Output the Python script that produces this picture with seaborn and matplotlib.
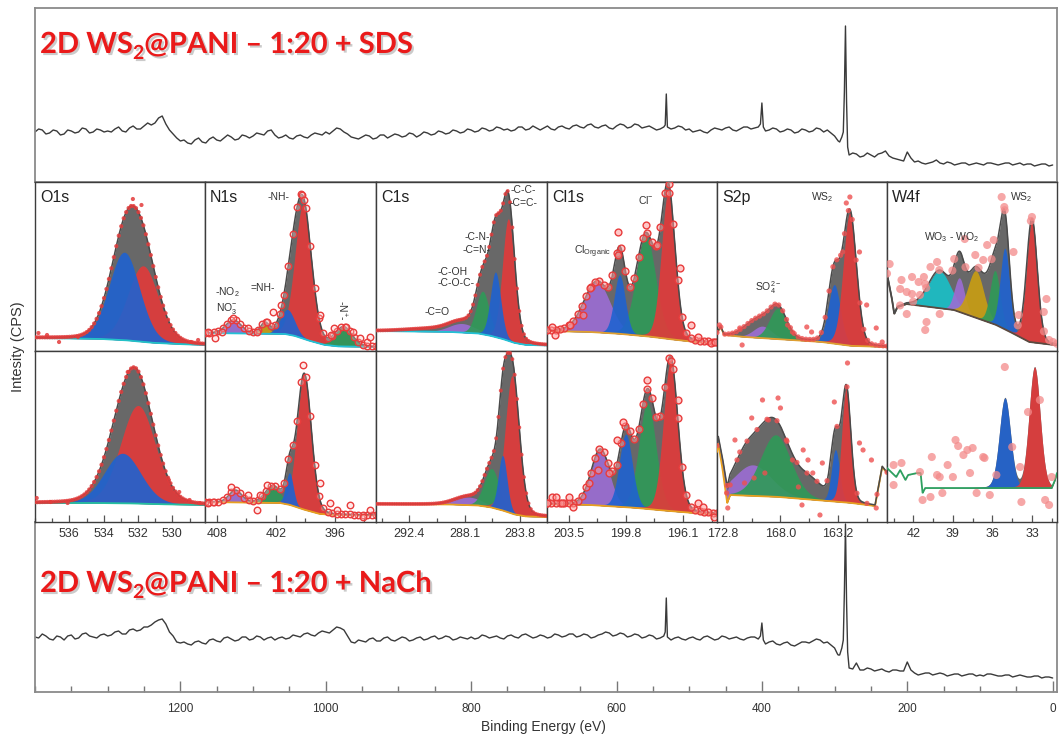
import numpy as np
import pandas as pd
import matplotlib
matplotlib.use("Agg")
import matplotlib.pyplot as plt
import matplotlib.patheffects as pe
from matplotlib.ticker import FixedLocator, FixedFormatter, MultipleLocator
import seaborn as sns

sns.set_style("white")
plt.rcParams["font.family"] = ["Liberation Sans", "DejaVu Sans"]
plt.rcParams["mathtext.fontset"] = "custom"
plt.rcParams["mathtext.rm"] = "Liberation Sans"
plt.rcParams["mathtext.it"] = "Liberation Sans:italic"
plt.rcParams["mathtext.bf"] = "Liberation Sans:bold"

# ------------------------------------------------------------------
# Survey spectra (binding energy in eV, counts in arbitrary units)
# sampled every 10 eV, plus the half-step readings and sharp peaks
# ------------------------------------------------------------------
SURVEY_STEP_E = np.arange(1400, -1, -10)
SURVEY_HALF_E = np.arange(1395, 0, -10)

SDS_SURVEY_I = [
    50, 52, 49, 51, 48, 51, 50, 53, 50, 52,
    51, 53, 51, 54, 53, 56, 57, 64, 58, 48,
    41, 39, 42, 40, 43, 42, 44, 45, 43, 46,
    46, 48, 51, 47, 45, 44, 46, 45, 47, 48,
    50, 51, 53, 48, 44, 45, 46, 44, 47, 46,
    47, 46, 48, 47, 49, 48, 50, 49, 51, 50,
    52, 51, 53, 52, 54, 53, 52, 55, 53, 54,
    54, 53, 55, 54, 56, 55, 57, 55, 56, 54,
    56, 57, 55, 57, 55, 54, 53, 55, 54, 55,
    53, 51, 50, 52, 53, 54, 52, 53, 55, 54,
    79, 52, 53, 51, 52, 50, 52, 51, 53, 52,
    46, 45, 27, 28, 26, 27, 28, 31, 24, 22,
    30, 20, 19, 19, 22, 18, 19, 18, 19, 18,
    18, 19, 18, 18, 19, 18, 17, 18, 17, 18,
    17,
]
SDS_HALF_I = [
    53, 48, 52, 47, 52, 49, 54, 49, 53, 50,
    50, 55, 50, 56, 53, 59, 59, 66, 52, 44,
    42, 38, 44, 39, 45, 41, 47, 42, 47, 44,
    49, 47, 52, 44, 47, 43, 47, 44, 49, 47,
    48, 54, 50, 45, 43, 47, 43, 47, 44, 48,
    45, 49, 45, 50, 47, 51, 48, 52, 49, 53,
    50, 54, 51, 55, 52, 51, 55, 52, 56, 52,
    56, 52, 56, 53, 57, 54, 58, 54, 57, 53,
    58, 54, 58, 54, 56, 52, 55, 53, 56, 52,
    50, 52, 49, 54, 52, 55, 51, 55, 53, 55,
    51, 54, 50, 53, 49, 53, 50, 54, 50, 49,
    41, 156, 29, 25, 29, 25, 29, 26, 23, 21,
    24, 21, 18, 20, 19, 20, 17, 19, 17, 19,
    17, 19, 17, 19, 17, 19, 18, 16, 18, 16,
]
SDS_PEAK_E = [533, 531.5, 402, 398, 296, 293, 288, 286.5, 283.5, 282]
SDS_PEAK_I = [57, 88, 58, 55, 42, 40, 50, 90, 80, 35]

NACH_SURVEY_I = [
    55, 58, 53, 56, 52, 57, 54, 59, 55, 57,
    56, 60, 58, 62, 61, 65, 67, 72, 68, 56,
    49, 48, 50, 49, 52, 51, 54, 53, 52, 55,
    53, 55, 54, 52, 55, 54, 56, 58, 57, 59,
    60, 62, 64, 56, 49, 51, 53, 51, 54, 52,
    53, 54, 52, 55, 53, 56, 54, 55, 53, 54,
    55, 54, 56, 55, 54, 56, 55, 57, 56, 55,
    56, 55, 57, 56, 58, 56, 57, 55, 58, 59,
    57, 58, 56, 57, 55, 56, 54, 55, 54, 53,
    54, 53, 55, 54, 53, 55, 54, 53, 54, 55,
    69, 50, 48, 49, 47, 48, 50, 51, 52, 50,
    44, 44, 24, 29, 22, 23, 22, 21, 22, 21,
    30, 19, 18, 19, 18, 18, 17, 18, 17, 18,
    17, 18, 17, 16, 17, 16, 16, 15, 16, 15,
    14,
]
NACH_HALF_I = [
    54, 56, 52, 55, 56, 53, 58, 56, 54, 58,
    57, 61, 58, 63, 62, 65, 70, 73, 60, 50,
    50, 47, 51, 48, 53, 50, 55, 51, 55, 52,
    56, 52, 55, 54, 53, 57, 55, 59, 56, 61,
    59, 65, 62, 50, 52, 50, 54, 51, 55, 51,
    55, 51, 54, 52, 55, 53, 56, 52, 55, 53,
    53, 57, 54, 56, 53, 57, 54, 58, 54, 57,
    54, 58, 55, 58, 55, 58, 54, 57, 60, 56,
    59, 55, 58, 54, 57, 53, 56, 52, 55, 52,
    55, 52, 56, 52, 56, 53, 55, 52, 55, 53,
    48, 51, 47, 50, 46, 50, 49, 53, 49, 47,
    37, 168, 23, 22, 24, 21, 23, 20, 22, 21,
    22, 17, 19, 17, 19, 16, 18, 16, 18, 16,
    16, 18, 16, 17, 15, 17, 15, 16, 14, 15,
]
NACH_PEAK_E = [533, 531.5, 402, 398, 296, 293, 288, 286.5, 283.5, 282]
NACH_PEAK_I = [60, 94, 56, 52, 38, 37, 52, 100, 90, 40]

SURVEY_TICK_LABELS = ["1200", "1000", "800", "600", "400", "200", "0"]

# ------------------------------------------------------------------
# Core-level fits: background polyline, components (centre eV,
# height, FWHM eV, colour; colour None = part of the envelope only),
# plus measured points lying off the envelope.
# ------------------------------------------------------------------
# --- 1:20 + SDS ---
O1S_SDS_BG_E = [538, 534, 532.5, 531, 529, 528]
O1S_SDS_BG_I = [13, 12, 10.5, 8, 6.5, 6]
O1S_SDS_PEAKS = [(531.7, 76, 2.1, "red"), (532.8, 88, 2.1, "blue")]
O1S_SDS_PTS_E = [537.8, 537.3, 536.6, 535.5, 532.3, 531.8, 528.9, 528.5]
O1S_SDS_PTS_I = [18, 16, 9, 14, 152, 146, 9, 11]

N1S_SDS_BG_E = [409.2, 401, 400, 398.5, 397, 395.5, 391.8]
N1S_SDS_BG_I = [18, 17, 15, 10, 6, 4.5, 4]
N1S_SDS_PEAKS = [(406.3, 13, 1.8, "purple"), (403.1, 10, 1.0, "gold"),
                 (399.2, 134, 2.0, "red"), (400.2, 22, 1.4, None),
                 (400.8, 25, 1.7, "blue"), (395.1, 19, 2.0, "green")]
N1S_SDS_PTS_E = [408.9, 408.2, 407.5, 406.3, 404.8, 403.9, 402.9, 402.3, 401.5,
                 399.3, 399.1, 397.5, 396.4, 396.1, 394.9, 394.1, 393.4, 392.7, 392.4]
N1S_SDS_PTS_I = [19, 13, 19, 33, 23, 19, 29, 39, 46,
                 156, 151, 36, 16, 23, 24, 19, 13, 9, 14]

C1S_SDS_BG_E = [295, 289, 287, 286, 285, 284.2, 283.3, 281.7]
C1S_SDS_BG_I = [20, 19, 17.5, 15, 11.5, 8, 6, 5.5]
C1S_SDS_PEAKS = [(290.5, 3, 5.0, None), (288.3, 9, 2.4, "purple"),
                 (286.7, 43, 1.2, "green"), (285.6, 34, 2.2, None),
                 (284.7, 122, 1.1, "red"), (285.7, 65, 0.95, "blue")]
C1S_SDS_PTS_E = []
C1S_SDS_PTS_I = []

CL1S_SDS_BG_E = [204.9, 202, 200, 198, 196.5, 195, 193.9]
CL1S_SDS_BG_I = [20, 19, 17, 14, 11, 8.5, 8]
CL1S_SDS_PEAKS = [(201.65, 50, 2.0, "purple"), (198.5, 100, 1.5, "green"),
                  (200.1, 12, 1.0, None), (200.2, 59, 0.85, "blue"),
                  (197.05, 147, 1.05, "red")]
CL1S_SDS_PTS_E = [204.6, 204.4, 203.4, 202.6, 202.1, 200.3, 200.3, 198.5, 197.8,
                  197.0, 196.3, 195.6, 195.1, 194.3, 194.0]
CL1S_SDS_PTS_I = [24, 16, 26, 36, 63, 119, 96, 126, 106,
                  158, 83, 26, 14, 8, 9]

S2P_SDS_BG_E = [173.3, 173.0, 172.7, 171, 167, 164.5, 162, 159.1]
S2P_SDS_BG_I = [18, 24, 16, 14, 11, 9, 5, 4]
S2P_SDS_PEAKS = [(170.5, 10, 2.0, None), (169.5, 12, 1.8, "purple"),
                 (168.2, 31, 1.7, "green"), (163.6, 12, 1.0, None),
                 (163.5, 59, 1.2, "blue"), (162.2, 133, 1.3, "red")]
S2P_SDS_PTS_E = [173.1, 171.4, 171.2, 167.4, 167.0, 165.8, 165.4, 162.5, 162.2,
                 162.8, 161.4, 160.8, 160.0, 159.5]
S2P_SDS_PTS_I = [26, 23, 6, 26, 19, 24, 19, 148, 154,
                 99, 99, 46, 23, 9]

W4F_SDS_BG_E = [44.0, 43.6, 43.45, 43.2, 42.5, 38.9, 35.7, 34.2, 33.2, 31.3, 31.1]
W4F_SDS_BG_I = [77, 50, 37, 44, 47, 41, 26, 16, 9, 6, 6]
W4F_SDS_PEAKS = [(40.0, 37, 2.0, "cyan"), (38.5, 34, 0.9, "purple"),
                 (38.5, 12, 1.0, None), (37.25, 47, 1.4, "gold"),
                 (36.4, 15, 0.9, None), (35.8, 54, 0.9, "green"),
                 (35.1, 27, 0.8, None), (35.05, 81, 0.85, "blue"),
                 (33.0, 123, 0.95, "red")]
W4F_SDS_PTS_E = [43.8, 42.9, 43.0, 42.1, 41.6, 41.2, 41.1, 42.5, 42.1, 41.5, 40.7,
                 40.2, 42.5, 41.0, 40.0, 41.1, 38.9, 38.1, 37.3, 36.7, 36.4, 35.9,
                 35.3, 35.1, 34.4, 34.0, 33.0, 31.9, 32.1, 31.7, 31.4]
W4F_SDS_PTS_I = [87, 71, 62, 74, 69, 74, 67, 59, 57, 56, 84,
                 89, 37, 29, 37, 21, 92, 112, 96, 91, 106, 111,
                 154, 144, 99, 36, 134, 52, 39, 11, 9]

# --- 1:20 + NaCh ---
O1S_NACH_BG_E = [538, 534, 532, 530, 528]
O1S_NACH_BG_I = [19, 19, 18.5, 17.5, 17]
O1S_NACH_PEAKS = [(532.0, 98, 2.4, "red"), (532.9, 50, 2.5, "blue")]
O1S_NACH_PTS_E = [537.9, 537.1, 536.1, 532.6, 530.2, 529.6, 529.0, 528.4]
O1S_NACH_PTS_I = [24, 20, 19, 150, 42, 30, 22, 19]

N1S_NACH_BG_E = [409.2, 401.5, 400.5, 399, 397.5, 396, 391.8]
N1S_NACH_BG_I = [20, 19, 17, 12, 8, 7, 7]
N1S_NACH_PEAKS = [(406.1, 12, 1.5, "purple"), (402.3, 16, 1.8, "green"),
                  (399.1, 136, 1.7, "red"), (400.6, 32, 0.9, "blue")]
N1S_NACH_PTS_E = [408.9, 408.4, 406.6, 404.8, 403.9, 403.6, 402.9, 399.2, 397.5,
                  396.5, 395.8, 394.4, 393.1, 392.4]
N1S_NACH_PTS_I = [19, 20, 35, 27, 12, 27, 37, 157, 39,
                  19, 12, 17, 5, 12]

C1S_NACH_BG_E = [295, 289, 287, 286, 285, 284.2, 283.3, 281.7]
C1S_NACH_BG_I = [18, 17.5, 16.5, 14.5, 11, 7.5, 5.5, 5]
C1S_NACH_PEAKS = [(287.8, 8, 2.5, "purple"), (286.0, 39, 1.4, "green"),
                  (284.9, 15, 1.2, None), (284.4, 138, 1.3, "red"),
                  (285.15, 55, 0.8, "blue")]
C1S_NACH_PTS_E = []
C1S_NACH_PTS_I = []

CL1S_NACH_BG_E = [204.9, 202, 199, 197, 195, 193.9]
CL1S_NACH_BG_I = [18, 17, 14, 11, 8.5, 8]
CL1S_NACH_PEAKS = [(201.45, 55, 1.4, "purple"), (198.4, 106, 1.3, "green"),
                   (198.3, 10, 1.2, None), (199.8, 73, 1.0, "blue"),
                   (196.9, 150, 1.1, "red")]
CL1S_NACH_PTS_E = [204.9, 204.6, 204.3, 203.9, 203.5, 203.2, 202.2, 201.6, 200.9,
                   200.4, 200.0, 198.4, 196.9, 196.4, 195.1, 194.8, 194.1]
CL1S_NACH_PTS_I = [19, 25, 25, 19, 25, 15, 39, 52, 49,
                   82, 100, 142, 161, 122, 19, 15, 5]

S2P_NACH_BG_E = [173.3, 173.2, 172.8, 172.45, 172.2, 170, 168, 165, 162, 160.1, 159.5, 159.1]
S2P_NACH_BG_I = [70, 79, 50, 19, 27, 26, 25, 22, 19, 16, 55, 49]
S2P_NACH_PEAKS = [(171.0, 14, 2.0, None), (170.3, 31, 3.6, "purple"),
                  (168.4, 62, 3.0, "green"), (165.5, 17, 2.5, None),
                  (163.6, 12, 0.8, None), (163.4, 52, 0.8, "blue"),
                  (162.5, 114, 0.9, "red")]
S2P_NACH_PTS_E = [171.8, 171.4, 170.4, 169.5, 168.2, 168.0, 169.0, 167.5, 167.0, 166.1,
                  165.7, 165.3, 166.5, 166.2, 164.7, 164.5, 163.5, 162.4, 161.4, 161.1,
                  160.4, 172.2, 172.5, 172.4, 160.0, 169.3, 171.0, 170.2]
S2P_NACH_PTS_I = [82, 70, 104, 122, 124, 114, 102, 82, 62, 72,
                  62, 49, 35, 17, 7, 59, 120, 159, 79, 72,
                  62, 37, 29, 14, 14, 49, 39, 44]

W4F_NACH_BG_E = [44.0, 43.3, 43.0, 42.6, 42.4, 41.7, 41.45, 41.3, 41.1, 31.5, 31.25, 31.1]
W4F_NACH_BG_I = [54, 45, 52, 42, 47, 49, 49, 29, 34, 34, 42, 49]
W4F_NACH_PEAKS = [(35.05, 90, 1.0, "blue"), (32.8, 121, 1.0, "red")]
W4F_NACH_PTS_E = [43.5, 42.9, 43.5, 41.3, 40.7, 41.5, 40.6, 40.2, 40.0, 39.8, 39.4,
                  39.0, 38.8, 38.6, 38.2, 37.9, 37.7, 37.5, 37.2, 36.7, 36.6, 36.2,
                  35.7, 35.06, 34.5, 33.9, 33.8, 33.3, 32.4, 32.0, 31.7, 31.5]
W4F_NACH_PTS_I = [57, 59, 37, 22, 25, 50, 65, 47, 45, 29, 57,
                  45, 82, 76, 67, 72, 49, 74, 29, 65, 64, 27,
                  47, 155, 75, 55, 20, 110, 122, 22, 17, 45]

CORE_LEVELS = ["O1s", "N1s", "C1s", "Cl1s", "S2p", "W4f"]
CORE_TICK_LABELS = {
    "O1s": ["536", "534", "532", "530"],
    "N1s": ["408", "402", "396"],
    "C1s": ["292.4", "288.1", "283.8"],
    "Cl1s": ["203.5", "199.8", "196.1"],
    "S2p": ["172.8", "168.0", "163.2"],
    "W4f": ["42", "39", "36", "33"],
}

SPECTRA = {
    ("SDS", "O1s"): (O1S_SDS_BG_E, O1S_SDS_BG_I, O1S_SDS_PEAKS, O1S_SDS_PTS_E, O1S_SDS_PTS_I),
    ("SDS", "N1s"): (N1S_SDS_BG_E, N1S_SDS_BG_I, N1S_SDS_PEAKS, N1S_SDS_PTS_E, N1S_SDS_PTS_I),
    ("SDS", "C1s"): (C1S_SDS_BG_E, C1S_SDS_BG_I, C1S_SDS_PEAKS, C1S_SDS_PTS_E, C1S_SDS_PTS_I),
    ("SDS", "Cl1s"): (CL1S_SDS_BG_E, CL1S_SDS_BG_I, CL1S_SDS_PEAKS, CL1S_SDS_PTS_E, CL1S_SDS_PTS_I),
    ("SDS", "S2p"): (S2P_SDS_BG_E, S2P_SDS_BG_I, S2P_SDS_PEAKS, S2P_SDS_PTS_E, S2P_SDS_PTS_I),
    ("SDS", "W4f"): (W4F_SDS_BG_E, W4F_SDS_BG_I, W4F_SDS_PEAKS, W4F_SDS_PTS_E, W4F_SDS_PTS_I),
    ("NaCh", "O1s"): (O1S_NACH_BG_E, O1S_NACH_BG_I, O1S_NACH_PEAKS, O1S_NACH_PTS_E, O1S_NACH_PTS_I),
    ("NaCh", "N1s"): (N1S_NACH_BG_E, N1S_NACH_BG_I, N1S_NACH_PEAKS, N1S_NACH_PTS_E, N1S_NACH_PTS_I),
    ("NaCh", "C1s"): (C1S_NACH_BG_E, C1S_NACH_BG_I, C1S_NACH_PEAKS, C1S_NACH_PTS_E, C1S_NACH_PTS_I),
    ("NaCh", "Cl1s"): (CL1S_NACH_BG_E, CL1S_NACH_BG_I, CL1S_NACH_PEAKS, CL1S_NACH_PTS_E, CL1S_NACH_PTS_I),
    ("NaCh", "S2p"): (S2P_NACH_BG_E, S2P_NACH_BG_I, S2P_NACH_PEAKS, S2P_NACH_PTS_E, S2P_NACH_PTS_I),
    ("NaCh", "W4f"): (W4F_NACH_BG_E, W4F_NACH_BG_I, W4F_NACH_PEAKS, W4F_NACH_PTS_E, W4F_NACH_PTS_I),
}

# ------------------------------------------------------------------
# Styling and layout
# ------------------------------------------------------------------
FIG_W, FIG_H = 1061, 738
COMP_COLORS = {"red": "#e23a3a", "blue": "#1f62d0", "green": "#2f9a58",
               "purple": "#9c6dd4", "gold": "#c99e12", "cyan": "#18c0c8"}
ENV_FILL = "#686868"
ENV_LINE = "#4a4a4a"
TITLE_RED = "#ea1a1a"

XLIMS = {"O1s": (538.0, 528.1), "N1s": (409.2, 391.8), "C1s": (295.0, 281.7),
         "Cl1s": (204.9, 193.9), "S2p": (173.3, 159.1), "W4f": (44.0, 31.1)}
MINOR_STEP = {"O1s": 1.0, "N1s": 3.0, "C1s": 2.15, "Cl1s": 1.85, "S2p": 2.4, "W4f": 1.5}
BG_COLOR = {("SDS", "O1s"): "#22c2c8", ("SDS", "N1s"): "#22c2d6", ("SDS", "C1s"): "#22c2d6",
            ("SDS", "Cl1s"): "#e0a030", ("SDS", "S2p"): "#e0a030", ("SDS", "W4f"): "#5a4a40",
            ("NaCh", "O1s"): "#25c0a0", ("NaCh", "N1s"): "#e8a020", ("NaCh", "C1s"): "#e8a020",
            ("NaCh", "Cl1s"): "#e8a020", ("NaCh", "S2p"): "#e8a020", ("NaCh", "W4f"): "#2ea060"}
ENV_POINTS = {("SDS", "O1s"): 70, ("SDS", "N1s"): 40, ("SDS", "C1s"): 75,
              ("SDS", "Cl1s"): 40, ("SDS", "S2p"): 45, ("SDS", "W4f"): 14,
              ("NaCh", "O1s"): 70, ("NaCh", "N1s"): 40, ("NaCh", "C1s"): 75,
              ("NaCh", "Cl1s"): 40, ("NaCh", "S2p"): 18, ("NaCh", "W4f"): 0}
MARKERS = {
    "O1s": dict(s=9, color="#e33b3b", edgecolor="none", alpha=0.85),
    "N1s": dict(s=22, facecolor=(1, 0.75, 0.75, 0.35), edgecolor="#e83c3c", linewidth=1.0),
    "C1s": dict(s=8, color="#e33b3b", edgecolor="none", alpha=0.85),
    "Cl1s": dict(s=24, facecolor=(1, 0.6, 0.6, 0.55), edgecolor="#e83c3c", linewidth=1.0),
    "S2p": dict(s=14, color="#ee5050", edgecolor="none", alpha=0.8),
    "W4f": dict(s=34, color="#f38a8a", edgecolor="none", alpha=0.75),
}

COL_EDGES = [35, 205, 376, 547, 717, 887, 1057]
ROW_EDGES = {"SDS": (182, 351), "NaCh": (351, 522)}


def px_axes(fig, x0, y0, x1, y1):
    return fig.add_axes([x0 / FIG_W, 1 - y1 / FIG_H, (x1 - x0) / FIG_W, (y1 - y0) / FIG_H])


def gl_peak(e, centre, height, fwhm, mix=0.12):
    u = (e - centre) / fwhm
    gauss = np.exp(-4 * np.log(2) * u ** 2)
    lorentz = 1.0 / (1.0 + 4 * u ** 2)
    return height * ((1 - mix) * gauss + mix * lorentz)


def style_frame(ax, color, lw):
    for sp in ax.spines.values():
        sp.set_color(color)
        sp.set_linewidth(lw)
        sp.set_visible(True)


def draw_survey(ax, counts, half_counts, peak_e, peak_i, ymax):
    df = pd.DataFrame({
        "energy": np.concatenate([SURVEY_STEP_E, SURVEY_HALF_E, peak_e]),
        "counts": np.concatenate([counts, half_counts, peak_i]),
    }).sort_values("energy")
    sns.lineplot(data=df, x="energy", y="counts", ax=ax, color="#3a3a3a",
                 linewidth=1.0, estimator=None, sort=False)
    ax.set_xlim(1400, -6)
    ax.set_ylim(0, ymax)
    ax.set_xlabel("")
    ax.set_ylabel("")
    ax.set_yticks([])
    style_frame(ax, "#8a8a8a", 1.3)


def draw_core(ax, sample, level, ymax):
    bg_e, bg_i, peaks, pts_e, pts_i = SPECTRA[(sample, level)]
    left, right = XLIMS[level]
    e = np.linspace(right, left, 900)
    order = np.argsort(bg_e)
    bg = np.interp(e, np.asarray(bg_e, float)[order], np.asarray(bg_i, float)[order])
    env = bg.copy()
    parts = []
    for centre, height, fwhm, col in peaks:
        comp = gl_peak(e, centre, height, fwhm)
        env = env + comp
        if col is not None:
            parts.append((comp, col))
    ax.fill_between(e, bg, env, color=ENV_FILL, lw=0, zorder=1)
    for comp, col in parts:
        ax.fill_between(e, bg, bg + comp, color=COMP_COLORS[col], alpha=0.9, lw=0, zorder=2)
    ax.plot(e, bg, color=BG_COLOR[(sample, level)], lw=1.3, zorder=3)
    if not (sample == "NaCh" and level == "W4f"):
        ax.plot(e, env, color=ENV_LINE, lw=1.1, zorder=3)
    n = ENV_POINTS[(sample, level)]
    se = np.linspace(right, left, n) if n else np.array([])
    si = np.interp(se, e, env) if n else np.array([])
    px = np.concatenate([se, np.asarray(pts_e, float)])
    py = np.concatenate([si, np.asarray(pts_i, float)])
    if len(px):
        sns.scatterplot(x=px, y=py, ax=ax, legend=False, zorder=4, clip_on=True,
                        **MARKERS[level])
    ax.set_xlim(left, right)
    ax.set_ylim(0, ymax)
    ax.set_yticks([])
    style_frame(ax, "#3c3c3c", 1.0)


fig = plt.figure(figsize=(FIG_W / 100, FIG_H / 100), dpi=100)

# survey panels
ax_top = px_axes(fig, 35, 8, 1057, 182)
draw_survey(ax_top, SDS_SURVEY_I, SDS_HALF_I, SDS_PEAK_E, SDS_PEAK_I, 174)
ax_top.set_xticks([])

ax_bot = px_axes(fig, 35, 522, 1057, 692)
draw_survey(ax_bot, NACH_SURVEY_I, NACH_HALF_I, NACH_PEAK_E, NACH_PEAK_I, 170)
ax_bot.xaxis.set_major_locator(FixedLocator([float(s) for s in SURVEY_TICK_LABELS]))
ax_bot.xaxis.set_major_formatter(FixedFormatter(SURVEY_TICK_LABELS))
ax_bot.xaxis.set_minor_locator(MultipleLocator(50))
ax_bot.tick_params(axis="x", which="major", direction="in", length=8, width=1.0,
                   color="#777777", labelsize=8.5, labelcolor="#333333", pad=8, bottom=True)
ax_bot.tick_params(axis="x", which="minor", direction="in", length=4.5, width=1.0,
                   color="#777777", bottom=True)

# core-level grid
AX_SDS = {}
for sample in ["SDS", "NaCh"]:
    y0, y1 = ROW_EDGES[sample]
    for c, level in enumerate(CORE_LEVELS):
        ax = px_axes(fig, COL_EDGES[c], y0, COL_EDGES[c + 1], y1)
        draw_core(ax, sample, level, y1 - y0)
        if sample == "SDS":
            ax.set_xticks([])
            ax.text(0.03, 0.91, level, transform=ax.transAxes, fontsize=11.5,
                    color="#222222", ha="left", va="center")
            AX_SDS[level] = ax
        else:
            labels = CORE_TICK_LABELS[level]
            ax.xaxis.set_major_locator(FixedLocator([float(s) for s in labels]))
            ax.xaxis.set_major_formatter(FixedFormatter(labels))
            ax.xaxis.set_minor_locator(MultipleLocator(MINOR_STEP[level]))
            ax.tick_params(axis="x", which="major", direction="in", length=5, width=0.9,
                           color="#555555", labelsize=9, labelcolor="#333333", pad=4,
                           bottom=True)
            ax.tick_params(axis="x", which="minor", direction="in", length=3, width=0.9,
                           color="#555555", bottom=True)
        ax.set_xlabel("")
        ax.set_ylabel("")

# peak assignments on the SDS row
ANNOT = {
    "N1s": [("-NH-", 0.43, 0.91, 0), ("=NH-", 0.34, 0.373, 0), ("-NO$_2$", 0.13, 0.349, 0),
            ("NO$_3^{-}$", 0.13, 0.254, 0), ("-N$^{+}$-", 0.80, 0.243, 270)],
    "C1s": [("-C-C-", 0.86, 0.953, 0), ("-C=C-", 0.86, 0.876, 0), ("-C-N-", 0.59, 0.675, 0),
            ("-C=N-", 0.59, 0.598, 0), ("-C-OH", 0.45, 0.467, 0), ("-C-O-C-", 0.47, 0.402, 0),
            ("-C=O", 0.36, 0.231, 0)],
    "Cl1s": [("Cl$^{-}$", 0.58, 0.893, 0), ("Cl$_{\\mathrm{Organic}}$", 0.27, 0.586, 0)],
    "S2p": [("WS$_2$", 0.62, 0.911, 0), ("SO$_4^{2-}$", 0.30, 0.373, 0)],
    "W4f": [("WO$_3$ - WO$_2$", 0.38, 0.675, 0), ("WS$_2$", 0.79, 0.911, 0)],
}
for level, items in ANNOT.items():
    for txt, fx, fy, rot in items:
        AX_SDS[level].text(fx, fy, txt, transform=AX_SDS[level].transAxes, fontsize=7.5,
                           color="#333333", ha="center", va="center", rotation=rot, zorder=6)

# axis titles
fig.text(18 / FIG_W, 1 - 347 / FIG_H, "Intesity (CPS)", rotation=90, ha="center",
         va="center", fontsize=10.5, color="#333333")
fig.text(543 / FIG_W, 1 - 727 / FIG_H, "Binding Energy (eV)", ha="center", va="center",
         fontsize=10, color="#333333")


def write_title(x_px, base_px, pieces):
    renderer = fig.canvas.get_renderer()
    x = x_px
    for txt, size, dy in pieces:
        t = fig.text(x / FIG_W, 1 - (base_px + dy) / FIG_H, txt, fontsize=size,
                     fontweight="bold", color=TITLE_RED, family=["Lato", "DejaVu Sans"],
                     ha="left", va="baseline", zorder=10,
                     path_effects=[pe.withSimplePatchShadow(offset=(1.5, -1.5),
                                                            shadow_rgbFace="0.55", alpha=0.45)])
        x = t.get_window_extent(renderer).x1


write_title(40, 53, [("2D WS", 21, 0), ("2", 14, 6), ("@PANI \u2013 1:20 + SDS", 21, 0)])
write_title(40, 592, [("2D WS", 21, 0), ("2", 14, 6), ("@PANI \u2013 1:20 + NaCh", 21, 0)])

fig.savefig("out.png", dpi=100)
